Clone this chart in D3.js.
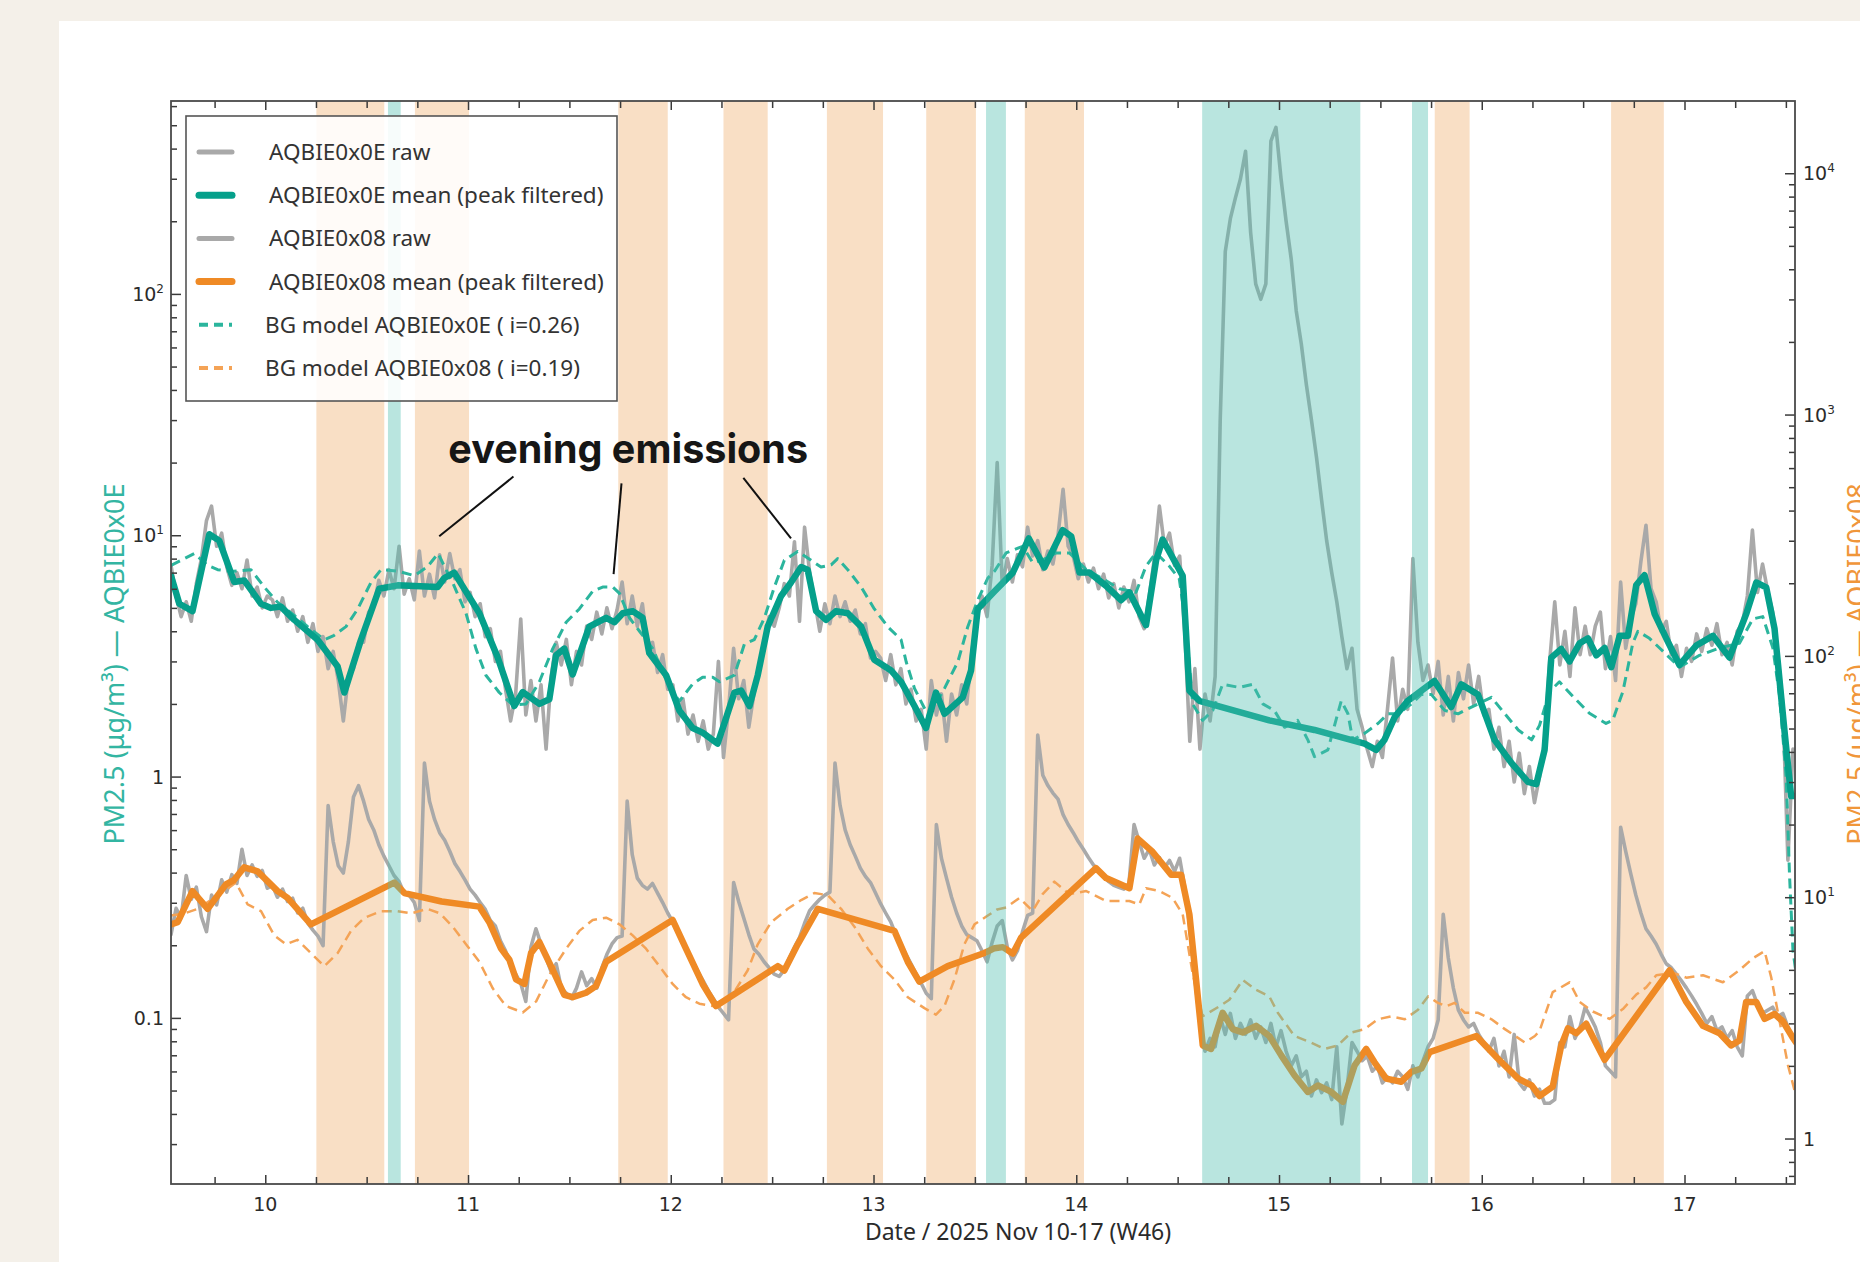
<!DOCTYPE html>
<html><head><meta charset="utf-8">
<script src="https://cdn.jsdelivr.net/npm/d3@7"></script>
<style>html,body{margin:0;padding:0;background:#f4f0e9;}</style>
</head><body>
<svg id="chart" width="1860" height="1262"></svg>
<script>
// ---------------- DATA ----------------
const xDomain = [9.535, 17.545];
const leftDomain = [0.0205, 630];
const rightDomain = [0.648, 19920];
const dayTicks = [10, 11, 12, 13, 14, 15, 16, 17];
const leftTickLabels = [[0.1, "0.1", ""], [1, "1", ""], [10, "10", "1"], [100, "10", "2"]];
const rightTickLabels = [[1, "1", ""], [10, "10", "1"], [100, "10", "2"], [1000, "10", "3"], [10000, "10", "4"]];

const orangeBands = [[10.252,10.587],[10.738,11.005],[11.741,11.985],[12.26,12.478],[12.77,13.047],[13.26,13.505],[13.746,14.038],[15.768,15.94],[16.638,16.898]];
const tealBands = [[10.605,10.668],[13.555,13.653],[14.621,15.401],[15.656,15.735]];

// raw series sampled every rawStep days from rawStart
const rawStart = 9.535, rawStep = 0.025;
const raw0E = [
7.5,5.6,4.6,5.3,4.4,6.3,8.0,11.5,13.2,9.0,10.2,7.4,6.2,7.0,6.0,7.9,5.6,6.1,5.0,5.6,
5.4,4.6,5.5,4.4,4.9,4.0,4.6,3.6,4.3,3.3,3.8,2.8,3.3,2.5,1.7,2.6,2.8,3.6,3.6,4.8,
5.1,6.5,5.6,7.2,6.0,9.0,5.7,6.6,5.4,8.6,5.6,6.9,5.5,8.3,6.4,8.4,6.6,7.2,5.3,5.8,
4.6,5.2,3.8,4.1,3.0,3.3,2.3,1.7,2.2,4.5,1.8,2.5,1.7,2.4,1.3,2.6,3.6,2.9,3.7,2.4,
3.3,2.9,4.2,3.7,4.8,3.9,5.0,4.1,4.9,6.4,4.3,5.6,4.2,5.2,3.5,3.6,2.7,3.2,2.3,2.4,
1.7,2.1,1.5,1.8,1.4,1.7,1.3,1.5,3.0,1.2,1.9,3.4,2.1,2.5,1.6,2.2,2.9,3.5,4.6,4.2,
5.0,6.3,5.6,9.4,4.4,10.8,7.0,5.3,4.0,5.2,4.3,5.6,4.6,5.3,4.4,4.9,3.9,4.3,3.1,3.3,
3.1,2.5,3.2,2.4,2.8,2.0,2.3,1.7,1.9,1.3,2.5,1.8,2.2,1.4,2.2,1.8,2.4,2.0,3.3,4.5,
5.6,4.6,7.5,20.0,6.2,8.0,6.4,8.3,7.4,10.8,8.2,9.5,7.2,8.6,7.6,10.0,15.5,9.0,8.2,6.6,
7.6,6.4,7.3,6.0,6.9,5.5,6.3,5.0,6.1,5.3,6.5,4.6,4.1,5.6,8.0,13.2,9.0,10.2,7.5,8.2,
4.0,1.4,2.8,1.3,2.2,1.7,2.6,30,150,205,250,300,390,180,110,95,110,430,490,300,
200,140,85,62,42,30,21,14,9.5,7.0,5.3,3.8,2.8,3.4,1.9,1.6,1.3,1.1,1.4,1.2,
1.9,3.1,1.7,2.3,1.9,8.0,3.6,2.5,2.9,2.2,3.0,1.8,2.6,1.7,2.7,2.1,2.9,2.0,2.6,1.8,
1.9,1.3,1.6,1.1,1.4,0.95,1.25,0.85,1.1,0.78,1.0,1.4,3.0,5.3,2.9,4.0,2.6,5.0,3.2,4.2,
3.2,4.2,4.8,2.8,3.8,2.5,6.4,3.4,4.5,5.2,7.8,11.0,6.0,5.3,4.0,4.4,3.2,3.5,2.6,3.4,
3.0,3.9,3.3,4.1,3.5,4.3,3.2,3.6,2.9,4.0,4.3,5.6,10.5,5.8,7.6,5.9,4.8,3.2,2.0,0.45,1.3
];
const raw08 = [
7.0,9.0,8.2,12.3,9.8,11.0,8.3,7.2,10.2,9.3,11.8,10.5,12.4,11.4,15.8,12.3,13.6,12.2,12.9,10.9,
11.2,10.0,10.8,9.6,9.9,8.6,9.0,7.8,7.3,6.9,6.3,24,17,13.5,12.6,17,26,29,25,21,
19,16.5,14.8,13.5,12.3,11.6,10.4,10.2,9.5,8.0,36,25,21,18.5,17.2,15.5,13.8,12.8,11.8,10.8,
10.2,9.5,8.9,8.0,7.6,6.6,6.0,5.2,4.8,4.4,3.7,6.2,7.4,6.4,5.6,4.9,5.3,4.2,4.0,3.8,
4.2,4.9,4.3,4.6,4.2,5.1,5.8,6.4,6.8,6.9,25,15,12.0,11.2,10.8,11.4,10.4,9.5,8.6,7.9,
7.2,6.5,5.9,5.4,4.9,4.5,4.1,3.8,3.5,3.3,3.1,11.5,9.6,8.2,7.0,6.1,5.8,5.4,5.1,4.8,
4.7,5.0,5.6,6.2,6.8,7.8,8.8,9.3,9.8,10.2,10.5,36,24,19,16.5,14.8,13.2,12.2,11.5,10.4,
9.4,8.6,7.9,7.0,6.4,5.8,5.3,4.8,4.4,4.0,3.8,20,14.5,12.0,10.0,8.6,7.6,7.0,6.8,6.6,
6.0,5.4,6.5,7.6,8.0,6.2,5.5,6.0,7.2,8.4,8.6,47,32,29,27,25.5,22,20,18.5,17,
15.8,14.6,13.6,13.0,12.2,11.6,11.2,11.0,10.8,11.4,20,17,14.5,15.8,13.6,14.6,13.2,14.2,12.8,14.5,
11.0,7.5,4.6,3.0,2.3,2.6,2.4,3.2,2.7,3.3,2.6,3.0,2.7,3.1,2.6,2.9,2.5,3.0,2.4,2.8,
2.3,2.0,2.2,1.8,1.9,1.5,1.75,1.55,1.7,1.45,2.4,1.15,1.6,2.5,2.3,2.1,2.2,1.9,2.0,1.7,
1.8,1.7,1.9,1.8,1.6,2.0,1.8,2.1,2.4,2.6,3.1,8.5,5.6,4.2,3.4,3.1,2.9,3.0,2.7,2.5,
2.3,2.6,2.0,2.3,1.8,2.7,1.7,1.6,1.75,1.5,1.6,1.4,1.4,1.45,2.5,2.4,3.2,2.6,2.9,3.5,
3.2,2.9,2.5,2.0,1.9,1.8,19.5,15.5,12.5,10.2,8.6,7.4,6.9,6.4,5.8,5.3,5.1,4.8,4.5,4.2,
3.9,3.6,3.3,3.0,3.2,2.8,2.9,2.6,2.8,2.4,2.2,3.9,4.1,3.6,3.3,3.4,3.5,3.2,3.3,2.9,2.6
];

const mean0E = [[9.535,6.8],[9.576,5.2],[9.641,4.85],[9.724,10.1],[9.773,9.5],[9.847,6.4],[9.896,6.5],[9.979,5.2],[10.028,5.0],[10.077,5.06],[10.143,4.46],[10.258,3.69],[10.357,2.86],[10.39,2.23],[10.472,3.69],[10.562,6.0],[10.653,6.2],[10.85,6.1],[10.883,6.65],[10.932,7.0],[11.056,4.75],[11.146,3.12],[11.228,1.96],[11.27,2.24],[11.352,2.0],[11.401,2.09],[11.434,3.18],[11.475,3.39],[11.516,2.65],[11.598,4.18],[11.681,4.55],[11.722,4.36],[11.763,4.75],[11.812,4.85],[11.861,4.55],[11.894,3.25],[11.977,2.63],[12.042,1.88],[12.108,1.59],[12.157,1.52],[12.231,1.37],[12.264,1.66],[12.314,2.23],[12.347,2.27],[12.388,1.96],[12.429,2.63],[12.478,4.18],[12.544,5.6],[12.593,6.37],[12.643,7.38],[12.675,7.2],[12.717,4.85],[12.766,4.46],[12.815,4.85],[12.873,4.75],[12.939,4.18],[13.004,3.05],[13.087,2.75],[13.136,2.47],[13.202,1.96],[13.259,1.59],[13.308,2.23],[13.35,1.82],[13.44,2.13],[13.481,2.75],[13.514,4.95],[13.597,5.86],[13.687,7.0],[13.766,9.7],[13.843,7.36],[13.933,10.5],[13.975,9.9],[14.016,7.0],[14.065,7.0],[14.147,6.17],[14.221,5.38],[14.262,5.8],[14.344,4.24],[14.394,7.9],[14.426,9.6],[14.525,6.79],[14.558,2.27],[14.607,2.06],[14.952,1.71],[15.175,1.56],[15.422,1.37],[15.479,1.29],[15.52,1.42],[15.57,1.76],[15.635,2.06],[15.767,2.49],[15.849,1.94],[15.899,2.41],[15.981,2.19],[16.063,1.42],[16.146,1.14],[16.228,0.95],[16.269,0.93],[16.31,1.29],[16.343,3.11],[16.392,3.38],[16.433,3.0],[16.483,3.57],[16.524,3.74],[16.565,3.18],[16.606,3.41],[16.639,2.84],[16.68,3.83],[16.721,3.83],[16.762,6.22],[16.803,6.83],[16.853,4.71],[16.91,3.74],[16.975,2.9],[17.058,3.49],[17.14,3.83],[17.222,3.11],[17.304,4.71],[17.354,6.37],[17.403,6.08],[17.444,4.1],[17.493,1.55],[17.526,0.83],[17.55,0.83]];

const mean08 = [[9.535,7.72],[9.568,7.88],[9.641,10.6],[9.716,8.95],[9.806,11.3],[9.847,11.8],[9.896,13.3],[9.962,12.8],[10.061,10.6],[10.110,9.93],[10.225,7.72],[10.636,11.5],[10.686,10.4],[10.870,9.6],[11.056,9.14],[11.105,7.88],[11.163,6.12],[11.204,5.51],[11.237,4.56],[11.278,4.37],[11.311,5.87],[11.352,6.52],[11.409,5.18],[11.475,3.94],[11.516,3.85],[11.582,4.02],[11.631,4.28],[11.681,5.4],[12.009,8.05],[12.075,6.12],[12.157,4.37],[12.223,3.54],[12.528,5.18],[12.560,4.97],[12.626,6.38],[12.725,8.95],[13.103,7.25],[13.169,5.4],[13.226,4.47],[13.366,5.18],[13.547,5.87],[13.597,6.15],[13.638,6.21],[13.687,5.84],[13.729,6.82],[14.097,13.2],[14.147,12.0],[14.262,10.9],[14.303,17.5],[14.377,15.4],[14.468,12.4],[14.517,12.4],[14.558,8.49],[14.624,2.43],[14.665,2.35],[14.722,3.32],[14.772,2.84],[14.821,2.75],[14.887,2.93],[14.952,2.66],[15.011,2.21],[15.076,1.83],[15.142,1.56],[15.192,1.66],[15.258,1.56],[15.315,1.42],[15.373,2.01],[15.430,2.35],[15.471,2.07],[15.529,1.77],[15.603,1.72],[15.653,1.89],[15.702,1.95],[15.743,2.28],[15.973,2.66],[16.080,2.14],[16.180,1.77],[16.246,1.66],[16.285,1.50],[16.350,1.64],[16.392,2.43],[16.425,2.86],[16.466,2.73],[16.515,2.99],[16.557,2.55],[16.606,2.12],[16.927,4.98],[17.009,3.68],[17.091,2.93],[17.173,2.73],[17.230,2.43],[17.271,2.55],[17.304,3.68],[17.354,3.68],[17.395,3.13],[17.444,3.28],[17.485,3.06],[17.535,2.61],[17.55,2.5]];

const bg0E = [[9.535,7.5],[9.601,8.0],[9.650,8.4],[9.716,7.5],[9.765,7.2],[9.830,7.08],[9.929,7.2],[9.995,6.1],[10.061,5.27],[10.143,4.65],[10.209,4.18],[10.291,3.69],[10.340,3.85],[10.398,4.18],[10.456,4.95],[10.521,6.37],[10.571,7.2],[10.653,7.1],[10.735,6.8],[10.800,7.4],[10.852,8.4],[10.924,6.37],[10.990,4.75],[11.039,3.39],[11.088,2.63],[11.154,2.23],[11.220,1.98],[11.286,2.0],[11.352,2.47],[11.418,3.39],[11.484,4.36],[11.549,4.95],[11.615,5.86],[11.664,6.1],[11.714,6.1],[11.747,5.74],[11.796,4.55],[11.845,4.01],[11.911,3.39],[11.977,2.52],[12.042,2.05],[12.108,2.42],[12.157,2.58],[12.207,2.58],[12.240,2.47],[12.314,2.63],[12.363,3.54],[12.412,3.69],[12.462,4.55],[12.511,6.1],[12.560,7.87],[12.626,8.56],[12.692,7.87],[12.741,7.38],[12.791,7.54],[12.823,8.0],[12.873,7.2],[12.939,6.1],[13.004,4.95],[13.070,4.18],[13.136,3.69],[13.161,2.99],[13.202,2.32],[13.268,1.80],[13.301,1.96],[13.350,2.32],[13.416,2.99],[13.465,4.18],[13.514,5.38],[13.564,6.65],[13.597,7.1],[13.654,8.45],[13.736,9.0],[13.785,7.7],[13.834,7.9],[13.900,8.45],[13.966,8.45],[14.049,7.2],[14.131,6.6],[14.213,6.0],[14.295,5.8],[14.344,7.45],[14.393,8.45],[14.459,7.45],[14.508,6.6],[14.541,4.24],[14.574,2.0],[14.623,1.71],[14.673,1.88],[14.722,2.41],[14.805,2.34],[14.870,2.41],[14.920,2.0],[14.977,1.88],[15.027,1.60],[15.092,1.71],[15.142,1.42],[15.175,1.21],[15.241,1.29],[15.307,2.06],[15.340,1.82],[15.364,1.42],[15.422,1.51],[15.488,1.66],[15.537,1.82],[15.587,1.82],[15.653,2.0],[15.702,2.19],[15.751,2.19],[15.817,1.88],[15.883,1.82],[15.949,1.94],[16.048,2.13],[16.114,1.82],[16.180,1.56],[16.246,1.42],[16.285,1.63],[16.334,2.25],[16.383,2.47],[16.449,2.15],[16.531,1.83],[16.613,1.66],[16.646,1.71],[16.696,2.25],[16.745,3.57],[16.770,4.0],[16.827,3.74],[16.877,3.41],[16.975,2.84],[17.074,3.18],[17.173,3.41],[17.271,3.57],[17.337,4.5],[17.386,4.6],[17.436,3.41],[17.469,2.15],[17.502,0.98],[17.518,0.39],[17.535,0.19],[17.55,0.154]];

const bg08 = [[9.535,8.4],[9.601,8.57],[9.667,8.95],[9.732,9.73],[9.798,10.6],[9.855,11.5],[9.913,9.33],[9.979,8.75],[10.044,6.95],[10.102,6.38],[10.159,6.66],[10.225,5.87],[10.291,5.18],[10.357,5.87],[10.423,7.25],[10.489,8.22],[10.571,8.75],[10.653,8.75],[10.719,8.57],[10.800,8.95],[10.862,8.57],[10.924,7.55],[10.990,6.38],[11.056,5.4],[11.122,4.19],[11.187,3.54],[11.270,3.33],[11.336,3.7],[11.401,4.76],[11.484,6.12],[11.549,7.25],[11.615,8.05],[11.681,8.22],[11.747,7.72],[11.812,6.95],[11.878,6.12],[11.944,5.18],[12.009,4.37],[12.075,3.85],[12.141,3.62],[12.207,3.54],[12.240,3.5],[12.297,3.85],[12.379,4.97],[12.429,6.38],[12.495,7.88],[12.577,8.95],[12.643,9.73],[12.708,10.4],[12.774,10.2],[12.840,8.95],[12.906,7.55],[12.972,6.12],[13.037,5.18],[13.103,4.56],[13.169,3.85],[13.251,3.47],[13.308,3.26],[13.350,3.54],[13.399,4.56],[13.448,6.38],[13.498,7.72],[13.564,8.4],[13.610,8.9],[13.654,9.06],[13.720,9.93],[13.785,8.77],[13.834,10.3],[13.892,11.6],[13.966,10.3],[14.049,10.6],[14.147,9.64],[14.262,9.64],[14.311,9.33],[14.344,10.9],[14.410,10.6],[14.475,9.93],[14.525,8.49],[14.574,4.83],[14.623,3.21],[14.706,3.53],[14.755,3.76],[14.821,4.54],[14.887,4.13],[14.952,3.88],[14.994,3.32],[15.076,2.66],[15.158,2.5],[15.224,2.35],[15.290,2.43],[15.356,2.75],[15.422,2.84],[15.488,3.12],[15.554,3.21],[15.620,3.12],[15.686,3.42],[15.735,3.88],[15.784,3.65],[15.825,3.53],[15.866,3.65],[15.916,3.32],[15.982,3.32],[16.048,3.12],[16.114,2.84],[16.213,2.5],[16.262,2.66],[16.285,2.79],[16.350,4.04],[16.433,4.44],[16.483,3.68],[16.548,3.36],[16.630,3.13],[16.696,3.44],[16.762,3.95],[16.811,4.23],[16.861,4.75],[16.943,4.86],[17.009,4.64],[17.091,4.75],[17.189,4.44],[17.271,4.98],[17.337,5.58],[17.395,5.98],[17.428,4.64],[17.469,3.06],[17.510,2.02],[17.55,1.50]];

const legendLabels = ["AQBIE0x0E raw", "AQBIE0x0E mean (peak filtered)", "AQBIE0x08 raw", "AQBIE0x08 mean (peak filtered)", "BG model AQBIE0x0E ( i=0.26)", "BG model AQBIE0x08 ( i=0.19)"];
const annotationText = "evening emissions";
const annotationAnchor = [11.79, 20];
const annotationLines = [[[11.224,17.5],[10.858,9.9]], [[11.757,16.4],[11.718,6.9]], [[12.358,17.3],[12.593,9.7]]];
const xLabel = "Date / 2025 Nov 10-17 (W46)";
const yLabelLeft = "PM2.5 (μg/m³) — AQBIE0x0E";
const yLabelRight = "PM2.5 (μg/m³) — AQBIE0x08";

// ---------------- DRAW ----------------
const W = 1860, H = 1262;
const M = {l: 171, r: 1795, t: 101, b: 1184};
const C = {
  gray: "#a9a9a9", teal: "#05a08b", orange: "#ef8a25",
  tealDash: "#2bb59d", orangeDash: "#f4a356",
  orangeBand: "#f9dfc5", tealBand: "#50beaf",
  axis: "#3a3a3a", text: "#2b2b2b"
};
const svg = d3.select("#chart");
svg.append("rect").attr("width", W).attr("height", H).attr("fill", "#f4f0e9");
svg.append("rect").attr("x", 59).attr("y", 21).attr("width", W - 59).attr("height", H - 21).attr("fill", "#ffffff");

const x = d3.scaleLinear().domain(xDomain).range([M.l, M.r]);
const yL = d3.scaleLog().domain(leftDomain).range([M.b, M.t]);
const yR = d3.scaleLog().domain(rightDomain).range([M.b, M.t]);

svg.append("defs").append("clipPath").attr("id", "clip")
  .append("rect").attr("x", M.l).attr("y", M.t).attr("width", M.r - M.l).attr("height", M.b - M.t);

const plot = svg.append("g").attr("clip-path", "url(#clip)");

plot.selectAll("rect.ob").data(orangeBands).join("rect").attr("class", "ob")
  .attr("x", d => x(d[0])).attr("width", d => x(d[1]) - x(d[0]))
  .attr("y", M.t).attr("height", M.b - M.t).attr("fill", C.orangeBand);

const rawPts = arr => arr.map((v, i) => [rawStart + i * rawStep, v]);
const lineL = d3.line().x(d => x(d[0])).y(d => yL(d[1]));
const lineR = d3.line().x(d => x(d[0])).y(d => yR(d[1]));

function path(g, d, gen, color, w, dash) {
  const p = g.append("path").attr("d", gen(d)).attr("fill", "none").attr("stroke", color)
    .attr("stroke-width", w).attr("stroke-linejoin", "round").attr("stroke-linecap", "round");
  if (dash) p.attr("stroke-dasharray", dash).attr("stroke-linecap", "butt");
  return p;
}
path(plot, rawPts(raw0E), lineL, C.gray, 3.6);
path(plot, rawPts(raw08), lineR, C.gray, 3.6);
path(plot, bg0E, lineL, C.tealDash, 3, "10,6");
path(plot, bg08, lineR, C.orangeDash, 2.5, "10,6");
path(plot, mean0E, lineL, C.teal, 6.5);
path(plot, mean08, lineR, C.orange, 6.5);

plot.selectAll("rect.tb").data(tealBands).join("rect").attr("class", "tb")
  .attr("x", d => x(d[0])).attr("width", d => x(d[1]) - x(d[0]))
  .attr("y", M.t).attr("height", M.b - M.t).attr("fill", C.tealBand).attr("fill-opacity", 0.4);

// ---- axes (inward ticks) ----
function styleAxis(g) {
  g.select(".domain").remove();
  g.selectAll(".tick line").attr("stroke", C.axis).attr("stroke-width", 1.5);
  g.selectAll(".tick text").remove();
}
const xMinor = d3.range(9.75, 17.55, 0.25).filter(v => !dayTicks.includes(v));
svg.append("g").attr("transform", `translate(0,${M.b})`).call(d3.axisBottom(x).tickValues(xMinor).tickSize(-7)).call(styleAxis);
svg.append("g").attr("transform", `translate(0,${M.b})`).call(d3.axisBottom(x).tickValues(dayTicks).tickSize(-9)).call(styleAxis);
svg.append("g").attr("transform", `translate(0,${M.t})`).call(d3.axisTop(x).tickValues(xMinor).tickSize(-7)).call(styleAxis);
svg.append("g").attr("transform", `translate(0,${M.t})`).call(d3.axisTop(x).tickValues(dayTicks).tickSize(-9)).call(styleAxis);

const lMajor = leftTickLabels.map(d => d[0]);
const lMinor = yL.ticks().filter(v => !lMajor.some(m => Math.abs(m - v) < 1e-9));
svg.append("g").attr("transform", `translate(${M.l},0)`).call(d3.axisLeft(yL).tickValues(lMinor).tickSize(-6)).call(styleAxis);
svg.append("g").attr("transform", `translate(${M.l},0)`).call(d3.axisLeft(yL).tickValues(lMajor).tickSize(-10)).call(styleAxis);
const rMajor = rightTickLabels.map(d => d[0]);
const rMinor = yR.ticks().filter(v => !rMajor.some(m => Math.abs(m - v) < 1e-9));
svg.append("g").attr("transform", `translate(${M.r},0)`).call(d3.axisRight(yR).tickValues(rMinor).tickSize(-6)).call(styleAxis);
svg.append("g").attr("transform", `translate(${M.r},0)`).call(d3.axisRight(yR).tickValues(rMajor).tickSize(-10)).call(styleAxis);

svg.append("rect").attr("x", M.l).attr("y", M.t).attr("width", M.r - M.l).attr("height", M.b - M.t)
  .attr("fill", "none").attr("stroke", "#4a4a4a").attr("stroke-width", 1.8);

// tick labels
const tickFont = "DejaVu Sans";
svg.append("g").selectAll("text").data(dayTicks).join("text")
  .attr("x", d => x(d)).attr("y", M.b + 27).attr("text-anchor", "middle")
  .attr("font-family", tickFont).attr("font-size", 19).attr("fill", C.text).text(d => d);

function supLabel(g, d, xp, anchor, sc) {
  const t = g.append("text").attr("x", xp).attr("y", sc(d[0]) + 7).attr("text-anchor", anchor)
    .attr("font-family", tickFont).attr("font-size", 19).attr("fill", C.text);
  t.append("tspan").text(d[1]);
  if (d[2]) t.append("tspan").attr("dy", -8).attr("font-size", 12).text(d[2]);
}
const gl = svg.append("g");
leftTickLabels.forEach(d => supLabel(gl, d, M.l - 7, "end", yL));
const gr = svg.append("g");
rightTickLabels.forEach(d => supLabel(gr, d, M.r + 8, "start", yR));

// axis labels
svg.append("text").attr("x", 1018).attr("y", 1240).attr("text-anchor", "middle")
  .attr("font-family", "Noto Sans").attr("font-size", 23).attr("fill", C.text).text(xLabel);
svg.append("text").attr("transform", `translate(124,664) rotate(-90)`).attr("text-anchor", "middle")
  .attr("font-family", "Noto Sans").attr("font-size", 27).attr("fill", "#33b5a2").text(yLabelLeft);
svg.append("text").attr("transform", `translate(1867,664) rotate(-90)`).attr("text-anchor", "middle")
  .attr("font-family", "Noto Sans").attr("font-size", 27).attr("fill", "#f0963a").text(yLabelRight);

// legend
const lg = svg.append("g");
lg.append("rect").attr("x", 186).attr("y", 116).attr("width", 431).attr("height", 285)
  .attr("fill", "#ffffff").attr("fill-opacity", 0.88).attr("stroke", "#555").attr("stroke-width", 1.6);
const legStyles = [
  {c: C.gray, w: 5}, {c: C.teal, w: 7}, {c: C.gray, w: 5}, {c: C.orange, w: 7},
  {c: C.tealDash, w: 4, dash: "9,6"}, {c: C.orangeDash, w: 4, dash: "9,6"}
];
legendLabels.forEach((lab, i) => {
  const yy = 152 + i * 43.2;
  const s = legStyles[i];
  const ln = lg.append("line").attr("x1", 199).attr("x2", 232).attr("y1", yy).attr("y2", yy)
    .attr("stroke", s.c).attr("stroke-width", s.w).attr("stroke-linecap", s.dash ? "butt" : "round");
  if (s.dash) ln.attr("stroke-dasharray", s.dash);
  lg.append("text").attr("x", i < 4 ? 269 : 265).attr("y", yy + 8).attr("font-family", "Noto Sans").attr("font-size", 22.5)
    .attr("fill", "#333").text(lab);
});

// annotation
const ag = svg.append("g");
annotationLines.forEach(l => {
  ag.append("line").attr("x1", x(l[0][0])).attr("y1", yL(l[0][1])).attr("x2", x(l[1][0])).attr("y2", yL(l[1][1]))
    .attr("stroke", "#111").attr("stroke-width", 2);
});
ag.append("text").attr("x", x(annotationAnchor[0])).attr("y", yL(annotationAnchor[1]))
  .attr("text-anchor", "middle").attr("font-family", "Inter").attr("font-weight", 700).attr("font-size", 39.5)
  .attr("fill", "#161616").text(annotationText);
</script>
</body></html>
